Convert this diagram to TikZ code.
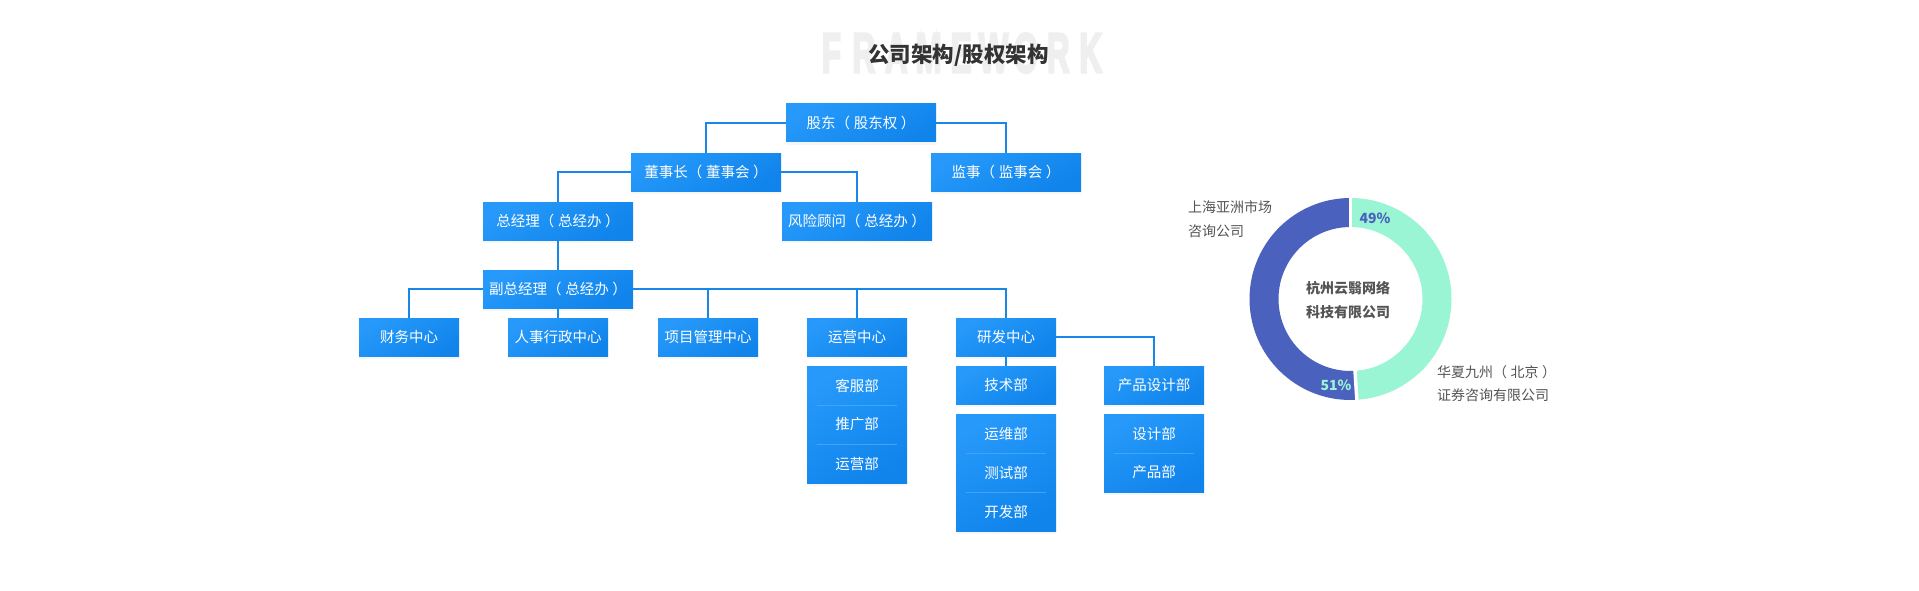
\documentclass[tikz,border=0pt]{standalone}
\usepackage{fontspec}
\setmainfont{Noto Sans CJK SC}
\newfontfamily\fwfont{Liberation Sans Bold}[FakeBold=5]
\usetikzlibrary{shadows}

\definecolor{boxlight}{RGB}{38,153,250}
\definecolor{boxdark}{RGB}{17,132,236}
\definecolor{linkblue}{RGB}{25,135,232}
\definecolor{sepblue}{RGB}{66,163,250}
\definecolor{ringblue}{RGB}{75,97,190}
\definecolor{ringgreen}{RGB}{154,245,212}
\definecolor{labelgray}{RGB}{85,85,85}
\definecolor{titlegray}{RGB}{51,51,51}
\definecolor{fwgray}{RGB}{239,239,239}

% full-width brackets, set a little apart as in the chart
\newcommand\lp{（\hspace{0.25em}}
\newcommand\rp{\hspace{0.25em}）}

\tikzset{
  orgbox/.style={minimum height=38, inner sep=0, text=white, font=\fontsize{14.5}{17}\selectfont,
    top color=boxlight, bottom color=boxdark, shading angle=30,
    drop shadow={shadow xshift=0pt, shadow yshift=-3pt, opacity=0.07}},
  widebox/.style={orgbox, minimum width=150},
  smallbox/.style={orgbox, minimum width=100},
  rowtext/.style={text=white, font=\fontsize{14.5}{17}\selectfont, inner sep=0},
  link/.style={draw=linkblue, line width=1.3},
  sepline/.style={draw=sepblue, line width=1},
  legend/.style={anchor=west, align=left, inner sep=0, text=labelgray, font=\fontsize{14}{23.5}\selectfont},
}

\begin{document}
\begin{tikzpicture}[x=1pt, y=-1pt]

  \path[use as bounding box, fill=white] (0,0) rectangle (1919,591);

  % title
  \foreach \ch [count=\i from 0] in {F,R,A,M,E,W,O,R,K}
    \node[inner sep=0, text=fwgray, font=\fwfont\fontsize{56}{60}\selectfont] (fw\i) at (831.5+32.4*\i,53) {\scalebox{0.56}[1]{\ch}};
  \node[inner sep=0, text=titlegray, font=\bfseries\fontsize{21.5}{24}\selectfont] (ttl) at (958.5,55) {公司架构/股权架构};

  % boxes
  \node[widebox] (gd) at (861,123) {股东\lp 股东权\rp};
  \node[widebox] (dsz) at (706,172) {董事长\lp 董事会\rp};
  \node[widebox] (jsh) at (1006,172) {监事\lp 监事会\rp};
  \node[widebox] (zjl) at (558,221) {总经理\lp 总经办\rp};
  \node[widebox] (fx) at (857,221) {风险顾问\lp 总经办\rp};
  \node[widebox] (fz) at (558,289) {副总经理\lp 总经办\rp};

  \node[smallbox] (cw) at (409,337) {财务中心};
  \node[smallbox] (rs) at (558,337) {人事行政中心};
  \node[smallbox] (xm) at (708,337) {项目管理中心};
  \node[smallbox] (yy) at (857,337) {运营中心};
  \node[smallbox] (yf) at (1006,337) {研发中心};
  \node[smallbox] (jsb) at (1006,385) {技术部};
  \node[smallbox] (cpsj) at (1154,385) {产品设计部};

  \node[smallbox, minimum height=117] (kfgrp) at (857,424.5) {};
  \node[rowtext] (kf1) at (857,385.5) {客服部};
  \node[rowtext] (kf2) at (857,424.5) {推广部};
  \node[rowtext] (kf3) at (857,463.5) {运营部};
  \draw[sepline] (817,405) -- (897,405);
  \draw[sepline] (817,444) -- (897,444);

  \node[smallbox, minimum height=117] (ywgrp) at (1006,472.5) {};
  \node[rowtext] (yw1) at (1006,433.5) {运维部};
  \node[rowtext] (yw2) at (1006,472.5) {测试部};
  \node[rowtext] (yw3) at (1006,511.5) {开发部};
  \draw[sepline] (966,453) -- (1046,453);
  \draw[sepline] (966,492) -- (1046,492);

  \node[smallbox, minimum height=78] (sjgrp) at (1154,453) {};
  \node[rowtext] (sj1) at (1154,433.5) {设计部};
  \node[rowtext] (sj2) at (1154,472.5) {产品部};
  \draw[sepline] (1114,453) -- (1194,453);

  % links
  \draw[link] (gd.west) -| (dsz.north);
  \draw[link] (gd.east) -| (jsh.north);
  \draw[link] (dsz.east) -| (fx.north);
  \draw[link] (zjl.north) |- (dsz.west);
  \draw[link] (zjl.south) -- (fz.north);
  \draw[link] (fz.west) -| (cw.north);
  \draw[link] (fz.east) -| (yf.north);
  \draw[link] (fz.south) -- (rs.north);
  \draw[link] (xm.north) -- (xm.north |- fz.east);
  \draw[link] (yy.north) -- (yy.north |- fz.east);
  \draw[link] (yf.south) -- (jsb.north);
  \draw[link] (yf.east) -| (cpsj.north);

  % ring
  \coordinate (dc) at (1350.5,299);
  \fill[ringgreen] ([shift={(-90:101)}]dc) arc[start angle=-90, end angle=86.4, radius=101]
    -- ([shift={(86.4:72)}]dc) arc[start angle=86.4, end angle=-90, radius=72] -- cycle;
  \fill[ringblue] ([shift={(86.4:101)}]dc) arc[start angle=86.4, end angle=270, radius=101]
    -- ([shift={(270:72)}]dc) arc[start angle=270, end angle=86.4, radius=72] -- cycle;
  \draw[white, line width=3.5] ([shift={(-90:70)}]dc) -- ([shift={(-90:103)}]dc);
  \draw[white, line width=3.5] ([shift={(86.4:70)}]dc) -- ([shift={(86.4:103)}]dc);

  \node[inner sep=0, text=ringblue, font=\bfseries\fontsize{14}{17}\selectfont] (p49) at (1375,218) {49\%};
  \node[inner sep=0, text=ringgreen, font=\bfseries\fontsize{14}{17}\selectfont] (p51) at (1336,385) {51\%};
  \node[align=center, inner sep=0, text=labelgray, font=\bfseries\fontsize{14}{23.5}\selectfont] (corp) at (1348,300) {杭州云翳网络\\科技有限公司};

  \node[legend] (shlab) at (1188,219.3) {上海亚洲市场\\咨询公司};
  \node[legend] (hxlab) at (1437,383.4) {华夏九州\lp 北京\rp\\证券咨询有限公司};

\end{tikzpicture}
\end{document}
